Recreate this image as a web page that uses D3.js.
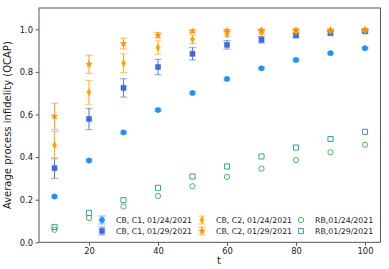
<!DOCTYPE html>
<html lang="en">
  <head>
    <meta charset="UTF-8" />
    <title>Average process infidelity</title>
    <style>
      body { margin: 0; background: #fff; }
      text { font-family: "DejaVu Sans", sans-serif; fill: #222; }
      .tick text { font-size: 8.4px; }
      .tick line { stroke: #333; stroke-width: 0.8px; }
      .domain { display: none; }
      .legend text { font-size: 7.8px; }
    </style>
  </head>
  <body>
    <svg width="389" height="269"></svg>
    <script src="https://cdnjs.cloudflare.com/ajax/libs/d3/7.8.5/d3.min.js"></script>
    <script>
      // data
      const tValues = [10, 20, 30, 40, 50, 60, 70, 80, 90, 100];
      const c1Jan24 = [0.215, 0.384, 0.516, 0.621, 0.701, 0.767, 0.817, 0.856, 0.888, 0.911];
      const c1Jan24Err = [0.006, 0.006, 0.006, 0.006, 0.006, 0.005, 0.005, 0.005, 0.005, 0.004];
      const c1Jan29 = [0.348, 0.579, 0.725, 0.823, 0.885, 0.927, 0.951, 0.971, 0.982, 0.99];
      const c1Jan29Err = [0.048, 0.05, 0.043, 0.036, 0.029, 0.02, 0.015, 0.01, 0.008, 0.006];
      const c2Jan24 = [0.456, 0.704, 0.841, 0.914, 0.953, 0.977, 0.985, 0.99, 0.993, 0.995];
      const c2Jan24Err = [0.065, 0.056, 0.044, 0.032, 0.02, 0.012, 0.008, 0.006, 0.005, 0.004];
      const c2Jan29 = [0.591, 0.836, 0.933, 0.972, 0.991, 0.994, 0.996, 0.997, 0.997, 0.998];
      const c2Jan29Err = [0.062, 0.043, 0.025, 0.013, 0.006, 0.004, 0.003, 0.003, 0.002, 0.002];
      const rbJan24 = [0.059, 0.114, 0.168, 0.218, 0.263, 0.307, 0.346, 0.386, 0.423, 0.458];
      const rbJan29 = [0.072, 0.138, 0.198, 0.256, 0.309, 0.356, 0.403, 0.445, 0.485, 0.519];
      const xTicks = [20, 40, 60, 80, 100];
      const yTicks = [0.0, 0.2, 0.4, 0.6, 0.8, 1.0];

      const series = [
        { label: "CB, C1, 01/24/2021", vals: c1Jan24, err: c1Jan24Err, color: "#1E90FF", marker: "circle", fill: true },
        { label: "CB, C1, 01/29/2021", vals: c1Jan29, err: c1Jan29Err, color: "#4169E1", marker: "square", fill: true },
        { label: "CB, C2, 01/24/2021", vals: c2Jan24, err: c2Jan24Err, color: "#FFA500", marker: "diamond", fill: true },
        { label: "CB, C2, 01/29/2021", vals: c2Jan29, err: c2Jan29Err, color: "#FF8C00", marker: "star", fill: true },
        { label: "RB,01/24/2021", vals: rbJan24, err: null, color: "#3cb043", marker: "circle", fill: false },
        { label: "RB,01/29/2021", vals: rbJan29, err: null, color: "#1f9a9a", marker: "square", fill: false }
      ];

      const svg = d3.select("svg");
      const margin = { top: 8, right: 8.5, bottom: 26.7, left: 39 };
      const W = 389, H = 269;

      const x = d3.scaleLinear().domain([5.5, 104.5]).range([margin.left, W - margin.right]);
      const y = d3.scaleLinear().domain([0, 1.1]).range([H - margin.bottom, margin.top]);

      const symbols = {
        circle: d3.symbolCircle,
        square: d3.symbolSquare,
        diamond: d3.symbolDiamond,
        star: d3.symbolStar
      };
      const sizes = { circle: 22, square: 26, diamond: 16, star: 13 };

      // axes
      svg.append("g")
        .attr("transform", `translate(0,${H - margin.bottom})`)
        .call(d3.axisBottom(x).tickValues(xTicks).tickSize(3.5).tickPadding(2.5));
      svg.append("g")
        .attr("transform", `translate(${margin.left},0)`)
        .call(d3.axisLeft(y).tickValues(yTicks).tickFormat(d3.format(".1f")).tickSize(3.5).tickPadding(2.5));

      const plot = svg.append("g");

      function drawMark(g, s, cx, cy, e) {
        if (e != null) {
          const y0 = y.invert(cy) - e, y1 = y.invert(cy) + e;
          g.append("line")
            .attr("x1", cx).attr("x2", cx)
            .attr("y1", y(y0)).attr("y2", y(y1))
            .attr("stroke", s.color).attr("stroke-opacity", 0.85).attr("stroke-width", 1.1);
          [y0, y1].forEach((v) => {
            g.append("line")
              .attr("x1", cx - 3.6).attr("x2", cx + 3.6)
              .attr("y1", y(v)).attr("y2", y(v))
              .attr("stroke", s.color).attr("stroke-opacity", 0.55).attr("stroke-width", 1.1);
          });
        }
        g.append("path")
          .attr("transform", `translate(${cx},${cy})`)
          .attr("d", d3.symbol().type(symbols[s.marker]).size(sizes[s.marker])())
          .attr("fill", s.fill ? s.color : "none")
          .attr("stroke", s.color)
          .attr("stroke-width", s.fill ? 0.5 : 0.9);
      }

      series.forEach((s) => {
        const g = plot.append("g");
        tValues.forEach((t, i) => {
          drawMark(g, s, x(t), y(s.vals[i]), s.err ? s.err[i] : null);
        });
      });

      // frame
      svg.append("rect")
        .attr("x", margin.left).attr("y", margin.top)
        .attr("width", W - margin.left - margin.right)
        .attr("height", H - margin.top - margin.bottom)
        .attr("fill", "none").attr("stroke", "#444").attr("stroke-width", 0.9);

      // legend, 3 columns x 2 rows
      const legend = svg.append("g").attr("class", "legend");
      const colX = [102, 202, 301];
      const rowY = [220, 231];
      series.forEach((s, i) => {
        const col = Math.floor(i / 2), row = i % 2;
        const cx = colX[col], cy = rowY[row];
        const g = legend.append("g");
        if (s.err) {
          g.append("line").attr("x1", cx).attr("x2", cx).attr("y1", cy - 4).attr("y2", cy + 4)
            .attr("stroke", s.color).attr("stroke-opacity", 0.85).attr("stroke-width", 1.1);
          [cy - 4, cy + 4].forEach((v) => {
            g.append("line").attr("x1", cx - 3.6).attr("x2", cx + 3.6).attr("y1", v).attr("y2", v)
              .attr("stroke", s.color).attr("stroke-opacity", 0.55).attr("stroke-width", 1.1);
          });
        }
        g.append("path")
          .attr("transform", `translate(${cx},${cy})`)
          .attr("d", d3.symbol().type(symbols[s.marker]).size(sizes[s.marker])())
          .attr("fill", s.fill ? s.color : "none")
          .attr("stroke", s.color)
          .attr("stroke-width", s.fill ? 0.5 : 0.9);
        legend.append("text")
          .attr("x", cx + 14).attr("y", cy)
          .attr("dy", "0.35em")
          .text(s.label);
      });

      // axis labels
      svg.append("text")
        .attr("x", 219)
        .attr("y", 264)
        .attr("text-anchor", "middle")
        .style("font-size", "10px")
        .text("t");
      svg.append("text")
        .attr("transform", `translate(11,${(margin.top + H - margin.bottom) / 2}) rotate(-90)`)
        .attr("text-anchor", "middle")
        .style("font-size", "10px")
        .text("Average process infidelity (QCAP)");
    </script>
  </body>
</html>
